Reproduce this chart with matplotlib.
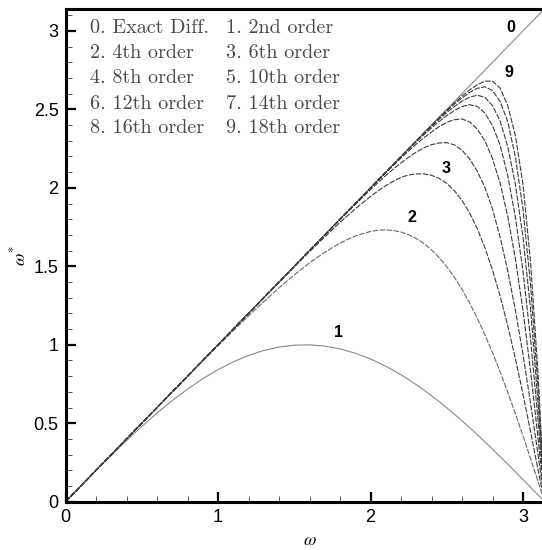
import matplotlib
matplotlib.use("Agg")
import matplotlib.pyplot as plt
from matplotlib.ticker import MultipleLocator

PI = 3.14159265
# abscissa (wavenumber) samples
omega = [0.0, 0.1, 0.2, 0.3, 0.4, 0.5, 0.6, 0.7, 0.8, 0.9, 1.0, 1.1, 1.2, 1.3, 1.4, 1.5,
         1.6, 1.7, 1.8, 1.9, 2.0, 2.05, 2.1, 2.15, 2.2, 2.25, 2.3, 2.35, 2.4, 2.45, 2.5,
         2.55, 2.6, 2.65, 2.7, 2.75, 2.8, 2.85, 2.9, 2.95, 3.0, 3.05, 3.1, PI]

# 0. exact differentiation
exact_x = [0.0, PI]
exact_y = [0.0, PI]

# 1..9 : modified wavenumber
order2 = [0.0, 0.09983, 0.19867, 0.29552, 0.38942, 0.47943, 0.56464, 0.64422, 0.71736, 0.78333,
          0.84147, 0.89121, 0.93204, 0.96356, 0.98545, 0.99749, 0.99957, 0.99166, 0.97385, 0.94630,
          0.90930, 0.88695, 0.86321, 0.83690, 0.80850, 0.77807, 0.74571, 0.71147, 0.67546, 0.63776,
          0.59847, 0.55768, 0.51550, 0.47203, 0.42738, 0.38166, 0.33499, 0.28748, 0.23925, 0.19042,
          0.14112, 0.09146, 0.04158, 0.0]
order4 = [0.0, 0.10000, 0.20000, 0.29998, 0.39994, 0.49983, 0.59955, 0.69902, 0.79804, 0.89640,
          0.99375, 1.08968, 1.18361, 1.27483, 1.36238, 1.44512, 1.52157, 1.58991, 1.64799, 1.69314,
          1.72232, 1.72992, 1.73203, 1.72837, 1.71838, 1.70152, 1.67737, 1.64528, 1.60492, 1.55580,
          1.49760, 1.43001, 1.35289, 1.26616, 1.16991, 1.06441, 0.95008, 0.82751, 0.69749, 0.56099,
          0.41916, 0.27324, 0.12463, 0.0]
order6 = [0.0, 0.1, 0.2, 0.3, 0.4, 0.5, 0.6, 0.7, 0.8, 0.9,
          1.0, 1.099, 1.199, 1.298, 1.397, 1.496, 1.593, 1.688, 1.780, 1.866,
          1.945, 1.981, 2.014, 2.042, 2.067, 2.082, 2.089, 2.089, 2.080, 2.060,
          2.028, 1.982, 1.920, 1.840, 1.740, 1.619, 1.476, 1.310, 1.121, 0.911,
          0.685, 0.445, 0.195, 0.0]
order8 = [0.0, 0.1, 0.2, 0.3, 0.4, 0.5, 0.6, 0.7, 0.8, 0.9,
          1.0, 1.1, 1.2, 1.3, 1.4, 1.499, 1.599, 1.698, 1.797, 1.894,
          1.989, 2.034, 2.078, 2.120, 2.159, 2.195, 2.228, 2.255, 2.275, 2.286,
          2.288, 2.274, 2.240, 2.184, 2.106, 2.003, 1.865, 1.686, 1.470, 1.220,
          0.937, 0.624, 0.291, 0.0]
order10 = [0.0, 0.1, 0.2, 0.3, 0.4, 0.5, 0.6, 0.7, 0.8, 0.9,
           1.0, 1.1, 1.2, 1.3, 1.4, 1.5, 1.6, 1.7, 1.799, 1.899,
           1.998, 2.047, 2.095, 2.143, 2.190, 2.235, 2.279, 2.319, 2.356, 2.390,
           2.418, 2.434, 2.439, 2.420, 2.375, 2.300, 2.186, 2.030, 1.818, 1.548,
           1.218, 0.830, 0.393, 0.0]
order12 = [0.0, 0.1, 0.2, 0.3, 0.4, 0.5, 0.6, 0.7, 0.8, 0.9,
           1.0, 1.1, 1.2, 1.3, 1.4, 1.5, 1.6, 1.7, 1.8, 1.900,
           1.999, 2.049, 2.099, 2.148, 2.197, 2.245, 2.293, 2.339, 2.382, 2.423,
           2.460, 2.493, 2.518, 2.530, 2.519, 2.477, 2.397, 2.272, 2.078, 1.813,
           1.468, 1.031, 0.505, 0.0]
order14 = [0.0, 0.1, 0.2, 0.3, 0.4, 0.5, 0.6, 0.7, 0.8, 0.9,
           1.0, 1.1, 1.2, 1.3, 1.4, 1.5, 1.6, 1.7, 1.8, 1.9,
           2.000, 2.050, 2.099, 2.149, 2.199, 2.248, 2.297, 2.345, 2.392, 2.437,
           2.480, 2.518, 2.552, 2.578, 2.590, 2.577, 2.524, 2.426, 2.263, 2.023,
           1.686, 1.223, 0.611, 0.0]
order16 = [0.0, 0.1, 0.2, 0.3, 0.4, 0.5, 0.6, 0.7, 0.8, 0.9,
           1.0, 1.1, 1.2, 1.3, 1.4, 1.5, 1.6, 1.7, 1.8, 1.9,
           2.000, 2.050, 2.100, 2.150, 2.199, 2.249, 2.299, 2.348, 2.397, 2.444,
           2.490, 2.534, 2.573, 2.608, 2.634, 2.644, 2.620, 2.550, 2.422, 2.197,
           1.864, 1.379, 0.708, 0.0]
order18 = [0.0, 0.1, 0.2, 0.3, 0.4, 0.5, 0.6, 0.7, 0.8, 0.9,
           1.0, 1.1, 1.2, 1.3, 1.4, 1.5, 1.6, 1.7, 1.8, 1.9,
           2.000, 2.050, 2.100, 2.150, 2.200, 2.250, 2.299, 2.349, 2.398, 2.447,
           2.495, 2.541, 2.585, 2.624, 2.657, 2.680, 2.680, 2.635, 2.524, 2.334,
           2.020, 1.522, 0.795, 0.0]

legend_col1 = ["0. Exact Diff.", "2. 4th order", "4. 8th order", "6. 12th order", "8. 16th order"]
legend_col2 = ["1. 2nd order", "3. 6th order", "5. 10th order", "7. 14th order", "9. 18th order"]

curve_labels = ["0", "9", "3", "2", "1"]
curve_label_pos = [(2.921, 3.023), (2.908, 2.737), (2.495, 2.125), (2.272, 1.813), (1.787, 1.080)]

x_ticks = [0, 1, 2, 3]
y_ticks = [0, 0.5, 1, 1.5, 2, 2.5, 3]
y_tick_labels = ["0", "0.5", "1", "1.5", "2", "2.5", "3"]

W, H = 542, 550
plt.rcParams["mathtext.fontset"] = "stix"
fig = plt.figure(figsize=(W / 100, H / 100), dpi=100)
ax = fig.add_axes([65.5 / W, (H - 501.7) / H, 479.1 / W, 493.0 / H])

dash = (0, (5, 1.3))
ax.plot(exact_x, exact_y, color="#8a8a8a", lw=0.8)
ax.plot(omega, order2, color="#8a8a8a", lw=0.8)
ax.plot(omega, order4, color="#6a6a6a", lw=0.8, ls=dash)
for ys in [order6, order8, order10, order12, order14, order16, order18]:
    ax.plot(omega, ys, color="#3c3c3c", lw=0.8, ls=dash)

ax.set_xlim(0, PI)
ax.set_ylim(0, PI)
ax.set_xticks(x_ticks)
ax.set_yticks(y_ticks)
ax.set_xticklabels([str(t) for t in x_ticks])
ax.set_yticklabels(y_tick_labels)
ax.xaxis.set_minor_locator(MultipleLocator(0.2))
ax.yaxis.set_minor_locator(MultipleLocator(0.1))
ax.tick_params(which="major", direction="in", length=7, width=1.6, color="black",
               labelsize=13, pad=5, top=False, right=False)
ax.tick_params(which="minor", direction="in", length=4, width=0.7, color="#555555",
               top=False, right=False)
for lab in ax.get_xticklabels() + ax.get_yticklabels():
    lab.set_fontfamily("Liberation Sans")
for s in ["left", "bottom", "top", "right"]:
    ax.spines[s].set_linewidth(2.2)

# legend block (text)
rows_y = [28, 53, 78, 104, 128]
for i, yy in enumerate(rows_y):
    fig.text(90 / W, 1 - yy / H, legend_col1[i], family="cmr10", fontsize=14.5,
             color="#4a4a4a", va="center", ha="left")
    fig.text(226 / W, 1 - yy / H, legend_col2[i], family="cmr10", fontsize=14.5,
             color="#4a4a4a", va="center", ha="left")

for lab, (xx, yy) in zip(curve_labels, curve_label_pos):
    ax.text(xx, yy, lab, fontsize=11.5, fontweight="bold", family="Liberation Sans",
            ha="center", va="center", color="black")

fig.text(310 / W, 1 - 540 / H, r"$\omega$", fontsize=13, ha="center", va="center")
fig.text(19 / W, 1 - 256 / H, r"$\omega^{*}$", fontsize=13, ha="center", va="center",
         rotation=90)

fig.savefig("out.png", dpi=100)
